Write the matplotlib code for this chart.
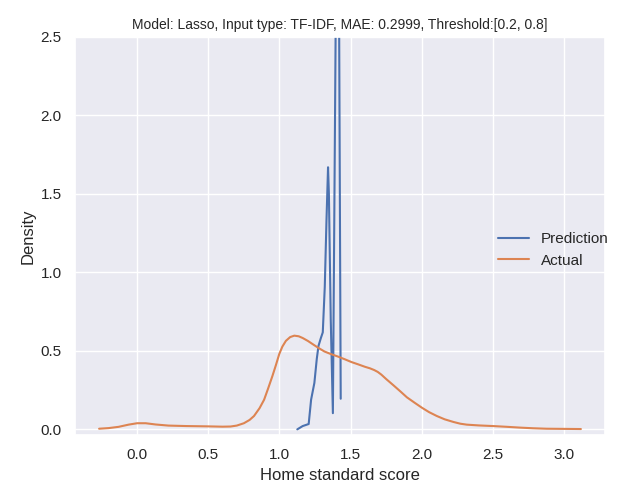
import matplotlib
matplotlib.use('Agg')
import matplotlib.pyplot as plt
import seaborn as sns

# values
actual_x = [-0.267, -0.2, -0.13, -0.06, 0.0, 0.06, 0.13, 0.22, 0.345, 0.5, 0.6, 0.656,
            0.7, 0.75, 0.79, 0.821, 0.86, 0.892, 0.92, 0.95, 0.975, 0.998, 1.02, 1.045,
            1.075, 1.104, 1.135, 1.163, 1.2, 1.233, 1.275, 1.316, 1.36, 1.41, 1.46, 1.505,
            1.55, 1.599, 1.635, 1.665, 1.69, 1.715, 1.75, 1.80, 1.85, 1.895, 1.95, 2.0, 2.05,
            2.105, 2.16, 2.222, 2.27, 2.315, 2.4, 2.5, 2.6, 2.69, 2.78, 2.876, 3.0, 3.117]
actual_y = [0.004, 0.008, 0.016, 0.03, 0.039, 0.039, 0.031, 0.024, 0.021, 0.019, 0.017, 0.018,
            0.024, 0.039, 0.06, 0.085, 0.135, 0.189, 0.26, 0.339, 0.41, 0.479, 0.527, 0.564,
            0.588, 0.597, 0.593, 0.582, 0.563, 0.543, 0.518, 0.496, 0.48, 0.464, 0.446, 0.429,
            0.415, 0.399, 0.389, 0.378, 0.366, 0.349, 0.32, 0.281, 0.241, 0.204, 0.169, 0.138, 0.11,
            0.085, 0.064, 0.047, 0.036, 0.030, 0.025, 0.021, 0.016, 0.011, 0.007, 0.004, 0.003, 0.002]

pred_x = [1.125, 1.163, 1.205, 1.222, 1.245, 1.262, 1.274, 1.29, 1.304, 1.318, 1.33, 1.341,
          1.347, 1.36, 1.375, 1.41, 1.43]
pred_y = [0.0, 0.021, 0.034, 0.189, 0.296, 0.45, 0.532, 0.58, 0.618, 0.907, 1.33, 1.67,
          1.5, 0.7, 0.103, 4.5, 0.195]

title = "Model: Lasso, Input type: TF-IDF, MAE: 0.2999, Threshold:[0.2, 0.8]"

sns.set_theme()
plt.rcParams['font.family'] = ['Liberation Sans', 'DejaVu Sans']

fig = plt.figure(figsize=(6.23, 5.0), dpi=100)
ax = fig.add_axes([0.1204, 0.13, 0.8507, 0.796])

ax.plot(pred_x, pred_y, label='Prediction')
ax.plot(actual_x, actual_y, label='Actual')

ax.set_ylim(-0.036, 2.5)
ax.set_xlabel('Home standard score')
ax.set_ylabel('Density')
ax.set_title(title, fontsize=10)
ax.legend(loc='center left', bbox_to_anchor=(0.787, 0.465), borderaxespad=0, frameon=False)

fig.savefig('out.png', dpi=100)
plt.close()
